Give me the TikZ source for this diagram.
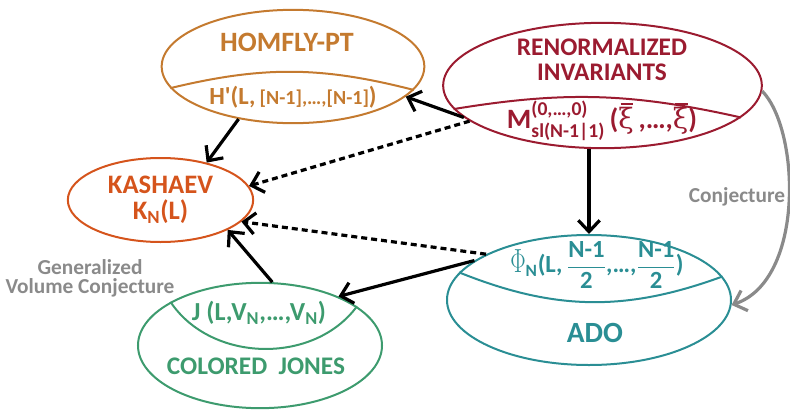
\documentclass[tikz,border=0pt]{standalone}
\usepackage{amsmath}
\usepackage{graphicx}
\usepackage{fontspec}
\setmainfont{Carlito}
\newfontfamily\greekfont{DejaVu Serif}
\newcommand{\xib}{\leavevmode\rlap{\kern0.08em\rule[0.82em]{0.45em}{0.07em}}{\greekfont\mdseries ξ}}
\usetikzlibrary{arrows.meta,shapes.geometric}
\definecolor{homfly}{HTML}{C47A2F}
\definecolor{renorm}{HTML}{9B1B30}
\definecolor{kashaev}{HTML}{D5541C}
\definecolor{ado}{HTML}{2A8E94}
\definecolor{jones}{HTML}{3D9B6E}
\definecolor{greytext}{HTML}{8A8A8A}

\begin{document}
\begin{tikzpicture}[x=0.75pt,y=-0.75pt, every node/.style={font=\bfseries,align=center},
  oval/.style={ellipse,draw,line width=1.5pt,inner sep=0pt},
  cut/.style={line width=1.5pt},
  big/.style={font=\fontsize{19}{19}\selectfont\bfseries},
  inv/.style={font=\fontsize{18.5}{18.5}\selectfont\bfseries},
  note/.style={text=greytext,font=\fontsize{16}{14.5}\selectfont\bfseries},
  a/.style={-{Straight Barb[length=8.5pt,width=16pt]},line width=2.4pt},
  d/.style={a,dash pattern=on 4.5pt off 3pt}]
  \useasboundingbox (0,0) rectangle (790,411);
  % ovals
  \node[oval,draw=homfly,minimum width=197pt,minimum height=85pt] (homfly) at (293,66.5) {};
  \node[oval,draw=renorm,minimum width=239pt,minimum height=94pt] (renorm) at (602.5,85.5) {};
  \node[oval,draw=kashaev,minimum width=139pt,minimum height=63pt] (kashaev) at (160.5,200) {};
  \node[oval,draw=ado,minimum width=213pt,minimum height=97.5pt] (ado) at (589,300) {};
  \node[oval,draw=jones,minimum width=183pt,minimum height=94pt] (jones) at (260,345.5) {};
  % dividing curves
  \draw[cut,homfly] (homfly.190) to[bend left=14] (homfly.-11);
  \draw[cut,renorm] (renorm.189.5) to[bend left=11] (renorm.-13);
  \draw[cut,ado] (ado.168) to[bend right=21] (ado.10);
  \draw[cut,jones] (jones.154) to[bend right=55] (jones.22);
  % texts
  \node[big,font=\fontsize{21}{21}\selectfont\bfseries,text=homfly] (homflyname) at (287,42) {HOMFLY-PT};
  \node[inv,text=homfly] (homflyinv) at (293,97) {H\textquotesingle(L,\,{\fontsize{15}{15}\selectfont[N-1],\dots,[N-1]})};
  \node[big,text=renorm] (renormname) at (602,60) {RENORMALIZED\\INVARIANTS};
  \node[inv,font=\fontsize{21}{21}\selectfont\bfseries,text=renorm] (renorminv) at (602,121) {M$^{\text{(0,\dots,0)}}_{\text{sl(N-1|1)}}$\,(\xib\,,\dots,\xib)};
  \node[font=\fontsize{20}{19.5}\selectfont\bfseries,text=kashaev] (kashaevname) at (160.5,200) {KASHAEV\\K$_{\text{N}}$(L)};
  \node[inv,text=ado] (adoinv) at (597,265) {\scalebox{1}[1.45]{$\Phi$}$_{\text{N}}$(L,\,$\dfrac{\text{N-1}}{\text{2}}$,\dots,$\dfrac{\text{N-1}}{\text{2}}$)};
  \node[big,font=\fontsize{22}{22}\selectfont\bfseries,text=ado] (adoname) at (595,333) {ADO};
  \node[inv,font=\fontsize{19.5}{19.5}\selectfont\bfseries,text=jones] (jonesinv) at (259,313) {J (L,V$_{\text{N}}$,\dots,V$_{\text{N}}$)};
  \node[big,text=jones] (jonesname) at (256,366) {COLORED\ \ JONES};
  \node[note] (gvc) at (90,278) {Generalized\\Volume Conjecture};
  \node[note] (conj) at (737,197) {Conjecture};
  % arrows
  \draw[a] (homfly.224) -- (kashaev.39);
  \draw[a] (renorm.193) -- (homfly.-15);
  \draw[d] (renorm.195) -- (kashaev.9);
  \draw[a] (renorm.south -| ado.north) -- (ado.north);
  \draw[d] (ado.156) -- (kashaev.-15);
  \draw[a] (ado.161) -- (jones.32);
  \draw[a] (jones.79) -- (kashaev.-24);
  \draw[a,greytext] (renorm.-2) .. controls (800,130) and (805,280) .. (ado.-2);
\end{tikzpicture}
\end{document}
